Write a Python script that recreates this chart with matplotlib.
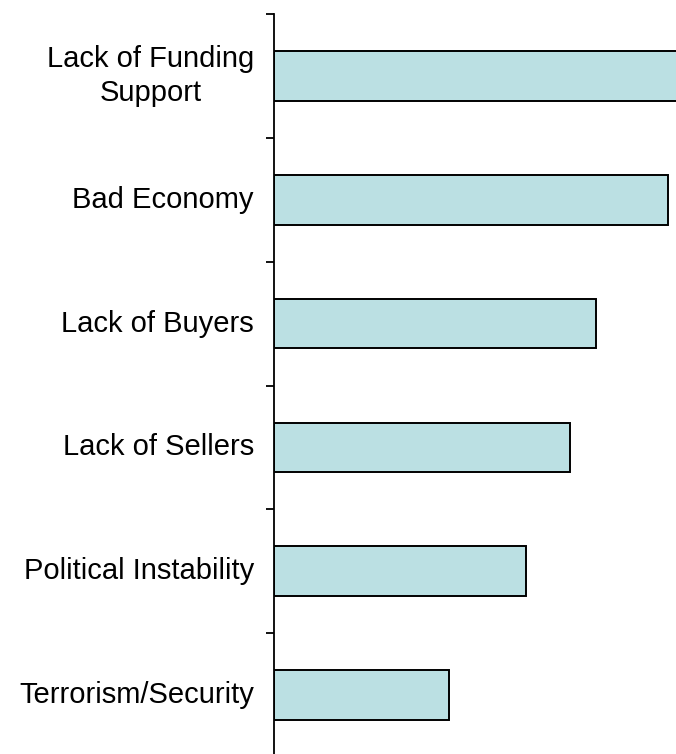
import matplotlib.pyplot as plt

# categories top to bottom
categories = ['Lack of Funding\nSupport', 'Bad Economy', 'Lack of Buyers',
              'Lack of Sellers', 'Political Instability', 'Terrorism/Security']
values = [52.0, 49.3, 40.3, 37.0, 31.5, 21.9]

plt.rcParams['font.family'] = ['Liberation Sans', 'DejaVu Sans']

fig = plt.figure(figsize=(6.76, 7.54), dpi=100)
ax = fig.add_axes([274 / 676, -3 / 754, 1 - 274 / 676, 743 / 754])

pos = list(range(len(categories)))
ax.barh(pos, values, height=0.4, color='#BBE0E3', edgecolor='black', linewidth=1.4)

ax.set_xlim(0, 50.25)
ax.set_ylim(len(categories) - 0.5, -0.5)

for s in ['top', 'right', 'bottom']:
    ax.spines[s].set_visible(False)
ax.spines['left'].set_linewidth(1.3)
ax.set_xticks([])

ax.set_yticks([p - 0.5 for p in pos] + [len(categories) - 0.5])
ax.set_yticklabels([])
ax.tick_params(axis='y', length=6, width=1.3, direction='out')

for p, c in zip(pos, categories):
    ax.text(-20 / 402 * 50.25, p, c, ha='right', va='center', ma='center',
            fontsize=21, linespacing=1.25)

fig.savefig('out.png', dpi=100)
